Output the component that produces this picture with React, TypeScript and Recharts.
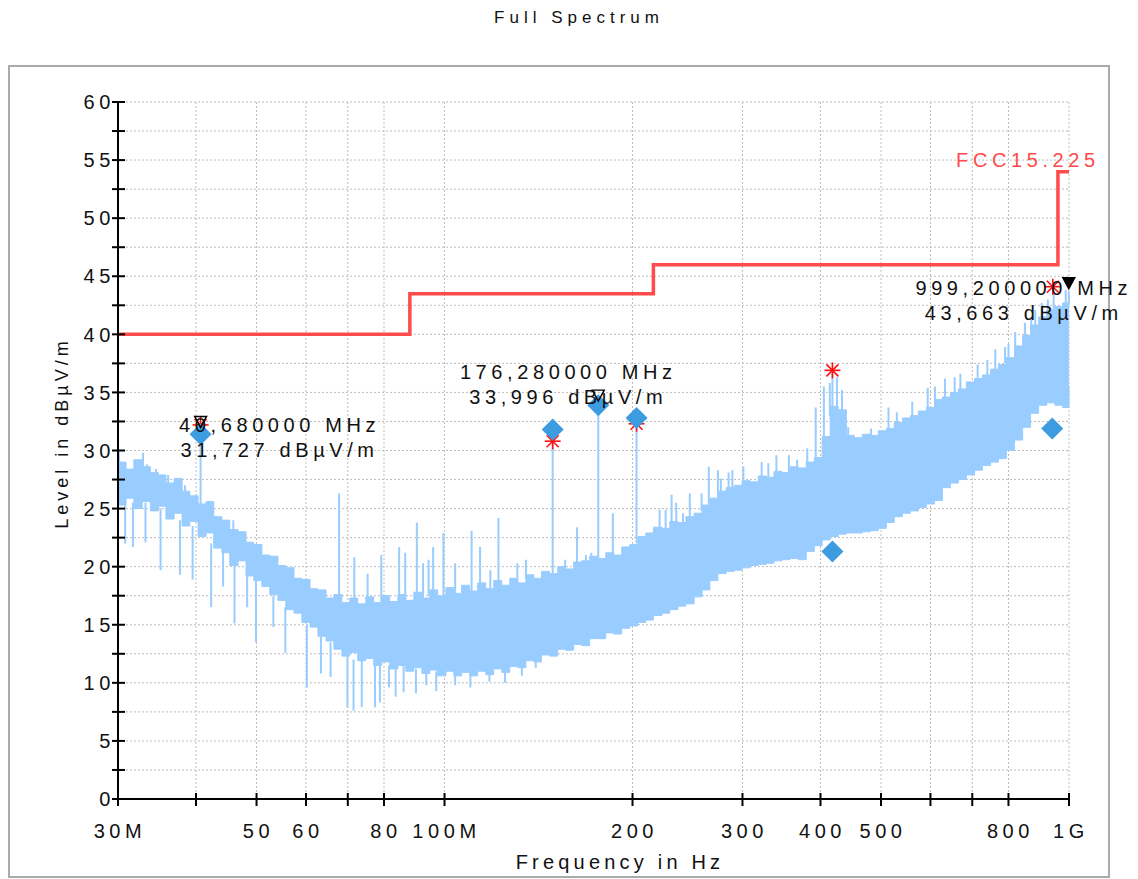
import React from 'react';
import { ComposedChart, Area, Line, Scatter, XAxis, YAxis, CartesianGrid } from 'recharts';

const FONT = '"Liberation Sans", Arial, sans-serif';
const TRACE = '#99CCFF';
const DIAMOND = '#3D9BE0';
const LIMIT = '#FF4B4B';

// FCC15.225 limit, stepped
const limitFreq = [30, 88, 216, 960, 1000];
const limitLevel = [40, 43.5, 46, 54, 54];

// dense body of the spectrum trace (MHz, dBµV/m)
const bodyFreq = [30, 30.9, 31.8, 32.8, 33.8, 34.8, 35.8, 36.9, 38, 39.1, 40.3, 41.5, 42.7, 44, 45.3, 46.7, 48.1, 49.5, 51, 52.5,
  54.1, 55.7, 57.4, 59.1, 60.9, 62.7, 64.6, 66.5, 68.5, 70.5, 72.6, 74.8, 77, 79.3, 81.7, 84.2, 86.7, 89.3, 92, 94.7,
  97.5, 100.5, 103.5, 106.5, 109.7, 113, 116.4, 119.9, 123.5, 127.2, 131, 135, 139, 143, 147.3, 151.8, 156.3, 161, 165.8, 170.8,
  175.9, 181.2, 186.6, 192.2, 198, 204, 210, 216, 223, 229.5, 236.5, 243.5, 251, 258.5, 266, 274, 282.5, 291, 299.5, 308.5,
  318, 327.5, 337, 347, 357.5, 368.5, 379.5, 391, 402.5, 414.5, 427, 440, 453, 466.5, 480.5, 495, 510, 525, 541, 557,
  574, 591, 609, 627, 646, 665, 685, 706, 727, 749, 771, 794, 818, 843, 868, 894, 921, 949, 977, 1000];
const bodyHigh = [29, 28.4, 29.2, 28.6, 28.1, 27.9, 27.2, 27.6, 26.5, 26.1, 25.4, 25.6, 24.3, 24, 23.2, 23, 22.1, 21.9, 21, 20.9,
  20.1, 19.9, 19, 18.9, 18.1, 18, 17.3, 17.6, 16.9, 17.3, 16.8, 17.4, 16.9, 17.5, 17, 17.6, 17.1, 17.8, 17.3, 18,
  17.5, 18.2, 17.7, 18.4, 17.9, 18.6, 18.1, 18.8, 18.4, 19, 18.6, 19.3, 19, 19.6, 19.4, 20, 19.8, 20.4, 20.5, 20.9,
  20.7, 21.2, 21, 21.7, 21.9, 22.6, 22.9, 23.4, 23.3, 23.9, 23.8, 24.3, 24.6, 25.3, 25.9, 26.5, 26.8, 27, 27.4, 27.3,
  27.8, 27.7, 28.2, 28.1, 28.6, 28.5, 29, 29.4, 31.2, 33.8, 33.5, 31.3, 31.1, 31.4, 31.3, 31.7, 31.9, 32.4, 32.8, 33,
  33.4, 33.7, 34.4, 34.6, 35, 35.3, 35.9, 36.2, 36.5, 37, 37.4, 38, 39, 39.9, 40.8, 41.5, 42.1, 42.4, 42.7, 43];
const bodyLow = [25.3, 25.9, 25, 25.6, 24.8, 25.2, 24.1, 24.6, 23.5, 23.9, 22.6, 22.9, 21.6, 21.2, 20.1, 20.5, 19.2, 18.8, 18.3, 17.6,
  17.1, 16.3, 16, 15.2, 14.8, 14, 13.6, 12.9, 12.3, 12.6, 11.9, 12.1, 11.5, 11.8, 11.2, 11.5, 11, 11.3, 10.8, 11.1,
  10.6, 11, 10.6, 10.9, 10.6, 11, 10.7, 11.2, 10.9, 11.4, 11.3, 11.9, 11.8, 12.4, 12.3, 12.9, 12.8, 13.3, 13.2, 13.8,
  13.8, 14.3, 14.2, 14.7, 14.9, 15.2, 15.4, 15.8, 16, 16.3, 16.6, 16.8, 17.4, 18, 18.8, 19.4, 19.6, 19.7, 19.9, 20.1,
  20.2, 20.3, 20.5, 20.6, 20.7, 20.6, 21.3, 21.8, 22.3, 22.6, 22.8, 22.9, 22.9, 23, 23.1, 23.3, 23.8, 24.3, 24.6, 24.8,
  25.1, 25.4, 25.7, 26.8, 27.2, 27.5, 27.9, 28.3, 28.7, 29, 29.3, 30, 30.9, 32, 33.2, 33.9, 34.1, 33.9, 33.7, 35.5];

// single-line spikes of the trace: upward ones
const upFreq = [30.1, 30.8, 32.9, 33.4, 34.5, 36.1, 38.4, 40.68, 45.9, 47.7, 53.9, 67.8, 71.7, 75.3, 79.2, 84.6, 86.5, 90.3, 92.4, 94.3,
  95.9, 99.6, 104, 110.5, 114, 118.4, 122, 130.8, 135, 149, 156, 163, 168.5, 171.8, 176.28, 186, 203, 221, 226, 231,
  235, 241, 247, 258, 265, 274, 277, 285, 289, 301, 322, 330, 340, 356, 367, 381, 393, 405, 414, 418,
  425, 433, 443, 482, 514, 530, 561, 594, 610, 633, 656, 670, 714, 740, 762, 790, 800, 820, 850, 870,
  883, 904, 925, 945, 988, 999.2];
const upFrom = [28.5, 28, 28, 28, 27.5, 27, 26, 25, 22.5, 22, 20, 16.5, 16.5, 16.5, 16.5, 17, 17, 17, 17, 17.5,
  17.5, 17.5, 17.5, 17.5, 18, 18, 18, 18.5, 19, 19, 19.5, 20, 20, 20.5, 20.5, 20.5, 22, 23, 23, 23.3,
  23.3, 23.8, 24, 24.8, 25.3, 26, 26, 26.5, 26.5, 27, 27.3, 27.5, 27.7, 28, 28.2, 28.5, 29, 30.5, 33, 33,
  33, 32.5, 31, 31, 31.5, 32, 32.5, 33.3, 34, 34.2, 34.8, 35, 35.8, 36.3, 36.8, 37.5, 37.7, 38.5, 39.5, 40.3,
  40.8, 41.3, 41.8, 42, 42.3, 42.5];
const upTo = [29.9, 28.9, 29.8, 28.8, 28.4, 27.9, 27, 31.7, 24, 22.9, 20.9, 26.3, 20.8, 19.4, 21, 21.7, 21.2, 23.8, 20.3, 20.6,
  21.7, 22.9, 20.3, 23.1, 21.7, 19.7, 24.2, 20.3, 20.6, 30.8, 20.6, 23.4, 21, 21.2, 34, 24.6, 32.3, 24.9, 24.9, 26.2,
  25.5, 24.6, 26.3, 26.3, 28.6, 28.3, 27.6, 28.1, 28.3, 28.6, 29, 28.9, 29.6, 29.6, 29.2, 30.2, 33.7, 35.5, 35.8, 36.6,
  36.3, 35.2, 32, 31.9, 33.7, 33.3, 34.2, 35.4, 35.5, 36.2, 36.3, 36.6, 37.4, 37.8, 38.7, 38.9, 39.2, 40.2, 41, 41.5,
  42.1, 42.7, 43, 43.5, 43.8, 43.66];

// downward spikes
const downFreq = [30.8, 31.7, 33.2, 35.1, 37.7, 39.5, 42.3, 44.2, 46.1, 48.3, 49.9, 53.2, 55.6, 60.2, 63.4, 65.7, 69.9, 71.5, 73.7, 77.4,
  78.8, 81.5, 83.5, 86, 90, 93.5, 97, 104, 110, 118, 125, 133, 140];
const downFrom = [26, 25.5, 25.5, 25, 24, 23.5, 22, 21.5, 20.5, 19.5, 19, 17.5, 16.5, 15, 14, 13.5, 12.5, 12, 12, 12,
  12, 11.5, 11.5, 11.5, 11.2, 11.2, 11, 11, 11, 11, 11.2, 11.6, 12];
const downTo = [22, 21.7, 22.1, 19.7, 19.3, 18.9, 16.5, 18.3, 15.1, 16.5, 13.5, 14.8, 12.6, 9.6, 10.8, 10.5, 7.9, 7.6, 7.9, 7.9,
  8.3, 9.6, 8.8, 9.2, 9.1, 9.8, 9.3, 9.8, 9.6, 10.1, 10, 10.6, 11.3];

// final measurement (diamonds)
const finalFreq = [40.68, 149, 176.28, 203, 418, 940];
const finalLevel = [31.4, 31.8, 33.9, 32.8, 21.3, 31.9];

// critical frequencies (red asterisks)
const critFreq = [40.68, 149, 203, 418, 942];
const critLevel = [32.2, 30.8, 32.3, 36.9, 44.1];

// peak markers (triangles) and their readouts
const peakFreq = [40.68, 176.28, 999.2];
const peakLevel = [31.727, 33.996, 43.663];
const peakFreqText = ['40,680000 MHz', '176,280000 MHz', '999,200000 MHz'];
const peakLevelText = ['31,727 dBµV/m', '33,996 dBµV/m', '43,663 dBµV/m'];

const xTicks = [30, 40, 50, 60, 70, 80, 100, 200, 300, 400, 500, 600, 700, 800, 1000];
const xTickLabels = ['30M', '', '50', '60', '', '80', '100M', '200', '300', '400', '500', '', '', '800', '1G'];
const yTicks = [0, 2.5, 5, 7.5, 10, 12.5, 15, 17.5, 20, 22.5, 25, 27.5, 30, 32.5, 35, 37.5, 40, 42.5, 45, 47.5, 50, 52.5, 55, 57.5, 60];

// layout of the readouts relative to their marker (px)
const readoutOffset = [
  { dx: 79, dy1: -6, dy2: 19 },
  { dx: -30, dy1: -32, dy2: -7 },
  { dx: -45, dy1: -4, dy2: 21 },
];
const peakFilled = [false, false, true];

const limitData = limitFreq.map((f, i) => ({ f, v: limitLevel[i] }));
const bodyData = bodyFreq.map((f, i) => ({ f, band: [bodyLow[i], bodyHigh[i]] }));
const toSegments = (fs: number[], from: number[], to: number[]) =>
  fs.flatMap((f, i) => [{ f, s: from[i] }, { f, s: to[i] }, { f, s: null }]);
const spikeData = [...toSegments(upFreq, upFrom, upTo), ...toSegments(downFreq, downFrom, downTo)];
const finalData = finalFreq.map((f, i) => ({ f, v: finalLevel[i] }));
const critData = critFreq.map((f, i) => ({ f, v: critLevel[i] }));
const peakData = peakFreq.map((f, i) => ({ f, v: peakLevel[i], i }));
const limitLabelData = [{ f: limitFreq[3], v: limitLevel[3] }];

const txt = { fontFamily: FONT, fontSize: 20, letterSpacing: 4.6, fill: '#111' };

const YTick = ({ x, y, payload }: any) => {
  const major = payload.value % 5 === 0;
  return (
    <g>
      <line x1={x - 6} x2={x + 7} y1={y} y2={y} stroke="#000" strokeWidth={2} />
      {major && (
        <text x={x - 3} y={y} dy="0.36em" textAnchor="end" {...txt}>
          {payload.value}
        </text>
      )}
    </g>
  );
};

const XTick = ({ x, y, payload }: any) => {
  const label = xTickLabels[xTicks.indexOf(payload.value)];
  return (
    <g>
      <line x1={x} x2={x} y1={y - 6} y2={y + 7} stroke="#000" strokeWidth={2} />
      {label && (
        <text x={x + 2} y={y + 39} textAnchor="middle" {...txt}>
          {label}
        </text>
      )}
    </g>
  );
};

const Diamond = ({ cx, cy }: any) => (
  <polygon points={`${cx},${cy - 11} ${cx + 11},${cy} ${cx},${cy + 11} ${cx - 11},${cy}`} fill={DIAMOND} />
);

const Asterisk = ({ cx, cy }: any) => (
  <g stroke="#FF1010" strokeWidth={1.6}>
    <line x1={cx} x2={cx} y1={cy - 8} y2={cy + 8} />
    <line x1={cx - 8} x2={cx + 8} y1={cy} y2={cy} />
    <line x1={cx - 6} x2={cx + 6} y1={cy - 6} y2={cy + 6} />
    <line x1={cx - 6} x2={cx + 6} y1={cy + 6} y2={cy - 6} />
  </g>
);

const PeakMarker = ({ cx, cy, payload }: any) => {
  const filled = peakFilled[payload.i];
  return (
    <polygon
      points={`${cx - 6},${cy - 14} ${cx + 6},${cy - 14} ${cx},${cy - 3}`}
      fill={filled ? '#000' : 'none'}
      stroke="#000"
      strokeWidth={1.4}
    />
  );
};

const PeakReadout = ({ cx, cy, payload }: any) => {
  const o = readoutOffset[payload.i];
  return (
    <g>
      <text x={cx + o.dx} y={cy + o.dy1} dy="0.36em" textAnchor="middle" {...txt}>
        {peakFreqText[payload.i]}
      </text>
      <text x={cx + o.dx} y={cy + o.dy2} dy="0.36em" textAnchor="middle" {...txt}>
        {peakLevelText[payload.i]}
      </text>
    </g>
  );
};

const LimitLabel = ({ cx, cy }: any) => (
  <text x={cx - 30} y={cy - 12} dy="0.36em" textAnchor="middle" {...txt} fill={LIMIT}>
    FCC15.225
  </text>
);

const abs = (extra: React.CSSProperties): React.CSSProperties => ({
  position: 'absolute',
  fontFamily: FONT,
  color: '#111',
  whiteSpace: 'nowrap',
  ...extra,
});

export default function App() {
  return (
    <div style={{ position: 'absolute', left: 0, top: 0, width: 1138, height: 879, background: '#fff' }}>
      <div style={abs({ left: 8, top: 65, width: 1102, height: 813, border: '2px solid #aaa', boxSizing: 'border-box' })} />
      <div style={abs({ left: 579, top: 18, fontSize: 17, letterSpacing: 5, transform: 'translate(-50%, -50%)' })}>
        Full Spectrum
      </div>
      <div style={abs({ left: 620, top: 862, fontSize: 20, letterSpacing: 4.2, transform: 'translate(-50%, -50%)' })}>
        Frequency in Hz
      </div>
      <div style={abs({ left: 62, top: 433, fontSize: 18, letterSpacing: 4, transform: 'translate(-50%, -50%) rotate(-90deg)' })}>
        Level in dBµV/m
      </div>
      <div style={{ position: 'absolute', left: 0, top: 0 }}>
        <ComposedChart width={1138} height={879} margin={{ top: 102, right: 69, bottom: 50, left: 58 }}>
          <CartesianGrid stroke="#bdbdbd" strokeDasharray="2 2" />
          <XAxis
            type="number"
            dataKey="f"
            scale="log"
            domain={[30, 1000]}
            ticks={xTicks}
            interval={0}
            height={30}
            tickSize={0}
            tickMargin={0}
            axisLine={{ stroke: '#000', strokeWidth: 2 }}
            tickLine={false}
            tick={<XTick />}
          />
          <YAxis
            type="number"
            domain={[0, 60]}
            ticks={yTicks}
            interval={0}
            width={60}
            tickSize={0}
            tickMargin={0}
            axisLine={{ stroke: '#000', strokeWidth: 2 }}
            tickLine={false}
            tick={<YTick />}
          />
          <Area data={bodyData} dataKey="band" type="stepAfter" stroke={TRACE} strokeWidth={1} fill={TRACE} fillOpacity={1} isAnimationActive={false} dot={false} activeDot={false} />
          <Line data={spikeData} dataKey="s" type="linear" stroke={TRACE} strokeWidth={2} dot={false} activeDot={false} connectNulls={false} isAnimationActive={false} />
          <Line data={limitData} dataKey="v" type="stepAfter" stroke={LIMIT} strokeWidth={3.5} dot={false} activeDot={false} isAnimationActive={false} />
          <Scatter data={limitLabelData} dataKey="v" shape={<LimitLabel />} isAnimationActive={false} />
          <Scatter data={critData} dataKey="v" shape={<Asterisk />} isAnimationActive={false} />
          <Scatter data={finalData} dataKey="v" shape={<Diamond />} isAnimationActive={false} />
          <Scatter data={peakData} dataKey="v" shape={<PeakMarker />} isAnimationActive={false} />
          <Scatter data={peakData} dataKey="v" shape={<PeakReadout />} isAnimationActive={false} />
        </ComposedChart>
      </div>
    </div>
  );
}
